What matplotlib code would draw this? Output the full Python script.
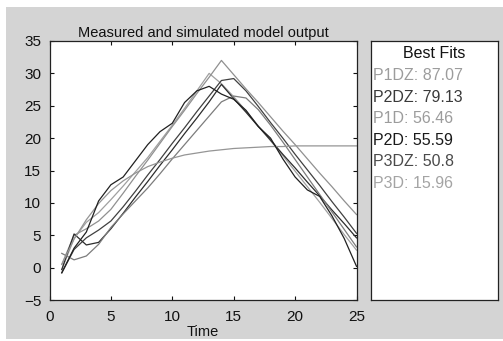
import matplotlib
matplotlib.use("Agg")
import matplotlib.pyplot as plt
from matplotlib.patches import Rectangle

plt.rcParams['font.family'] = ['Liberation Sans', 'DejaVu Sans']

# time samples
t = list(range(1, 26))

# measured output (noisy one)
measured = [-0.8, 3.0, 5.5, 10.3, 12.8, 14.0, 16.5, 19.0, 21.0, 22.3, 25.5, 27.3, 28.0,
            26.8, 26.0, 24.3, 21.8, 20.0, 16.8, 14.0, 12.0, 11.0, 8.0, 4.5, 0.2]

# simulated model outputs
p1dz = [-0.3, 4.5, 7.0, 8.5, 10.5, 12.6, 14.8, 17.0, 19.5, 22.0, 24.6, 27.3, 30.0,
        28.4, 26.4, 24.2, 21.9, 19.6, 17.3, 14.9, 12.5, 10.1, 7.6, 5.1, 2.7]
p2dz = [-0.8, 2.8, 4.6, 5.8, 7.2, 9.4, 11.8, 14.3, 16.7, 19.2, 21.6, 24.1, 26.5,
        28.9, 29.2, 27.3, 24.9, 22.4, 20.0, 17.5, 15.1, 12.7, 10.2, 7.8, 5.3]
p1d = [0.5, 5.0, 6.0, 7.2, 9.0, 11.5, 14.1, 16.6, 19.2, 21.8, 24.3, 26.9, 29.4,
       32.0, 29.8, 27.6, 25.5, 23.3, 21.1, 19.0, 16.8, 14.6, 12.5, 10.3, 8.2]
p2d = [-0.3, 5.2, 3.5, 3.9, 6.0, 8.4, 10.9, 13.3, 15.8, 18.2, 20.7, 23.1, 25.6,
       28.3, 26.1, 24.0, 21.8, 19.7, 17.5, 15.4, 13.2, 11.1, 8.9, 6.8, 4.6]
p3dz = [2.2, 1.2, 1.8, 3.6, 6.2, 8.3, 10.3, 12.3, 14.5, 16.8, 19.0, 21.2, 23.4,
        25.6, 26.5, 26.2, 24.4, 22.0, 19.4, 16.7, 14.0, 11.3, 8.6, 5.9, 3.2]
p3d = [0.5, 4.4, 7.4, 9.9, 11.9, 13.4, 14.6, 15.6, 16.3, 16.9, 17.4, 17.7, 18.0,
       18.2, 18.4, 18.5, 18.6, 18.7, 18.7, 18.8, 18.8, 18.8, 18.8, 18.8, 18.8]

fit_names = ["P1DZ", "P2DZ", "P1D", "P2D", "P3DZ", "P3D"]
fit_values = ["87.07", "79.13", "56.46", "55.59", "50.8", "15.96"]
fit_colors = ["#9c9c9c", "#3a3a3a", "#9c9c9c", "#1a1a1a", "#4a4a4a", "#a4a4a4"]
model_series = [p1dz, p2dz, p1d, p2d, p3dz, p3d]
line_colors = ["#a0a0a0", "#404040", "#909090", "#2c2c2c", "#7c7c7c", "#959595"]

fig = plt.figure(figsize=(5.03, 3.41), dpi=100)
fig.patch.set_facecolor("white")
fig.patches.append(Rectangle((6/503, 2/341), 497/503, 332/341, transform=fig.transFigure,
                             facecolor="#d4d4d4", edgecolor="none", zorder=-10))

ax = fig.add_axes([49.5/503, 41/341, 307/503, 259/341])
for ys, c in zip(model_series, line_colors):
    ax.plot(t, ys, color=c, lw=0.9)
ax.plot(t, measured, color="#202020", lw=0.9)

ax.set_xlim(0, 25)
ax.set_ylim(-5, 35)
ax.set_xticks([0, 5, 10, 15, 20, 25])
ax.set_yticks(range(-5, 36, 5))
ax.tick_params(direction="in", length=3, top=True, right=True, labelsize=11,
               colors="#111111")
ax.tick_params(axis="x", pad=7)
ax.tick_params(axis="y", pad=6)
for s in ax.spines.values():
    s.set_linewidth(0.9)
    s.set_color("#222222")
ax.set_title("Measured and simulated model output", fontsize=10.5, pad=3, color="#111111")
ax.set_xlabel("Time", fontsize=10.5, labelpad=1, color="#111111")

lax = fig.add_axes([371/503, 41/341, 127/503, 259/341])
lax.set_xticks([])
lax.set_yticks([])
for s in lax.spines.values():
    s.set_linewidth(0.9)
    s.set_color("#222222")
lax.text(0.5, 1 - 13/259, "Best Fits", ha="center", va="center", fontsize=11.5,
         color="#111111", transform=lax.transAxes)
for i, (n, v, c) in enumerate(zip(fit_names, fit_values, fit_colors)):
    lax.text(2/127, 1 - (34.5 + 21.6*i)/259, n + ": " + v, ha="left", va="center",
             fontsize=11.5, color=c, transform=lax.transAxes)

fig.savefig("out.png", dpi=100)
